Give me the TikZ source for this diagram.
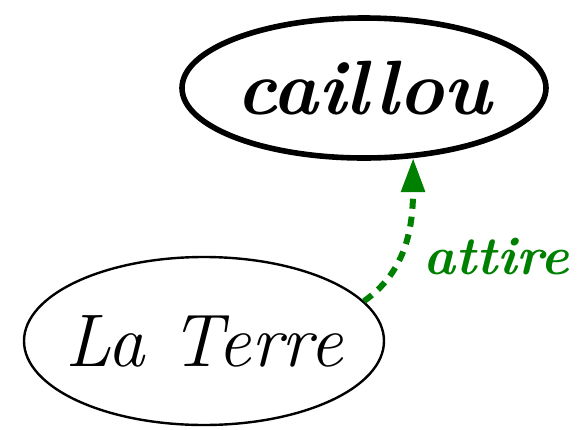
\documentclass[tikz,border=0pt]{standalone}
\usepackage{fontspec}
\definecolor{forcegreen}{RGB}{0, 128, 0}
\usepackage{tikz}
\usetikzlibrary{shapes, arrows.meta, positioning}

\begin{document}
\begin{tikzpicture}[x=0.5pt, y=-0.5pt]
  \useasboundingbox (0,0) rectangle (586,430);

  % the pebble
  \node[draw, ellipse, line width=2.8pt, inner sep=0pt, minimum width=182pt, minimum height=70pt,
        font=\fontsize{38.5}{42}\selectfont\bfseries\itshape] (caillou) at (364,88) {caillou};

  % the Earth
  \node[draw, ellipse, line width=1.2pt, inner xsep=-10pt, inner ysep=0pt, minimum width=180pt, minimum height=84pt,
        font=\fontsize{37.3}{42}\selectfont\itshape] (terre) at (204,341) {La Terre};

  % attraction
  \draw[forcegreen, line width=3pt, dash pattern=on 5pt off 4pt, -{Triangle[length=17pt, width=11.5pt]}]
    (terre.14) .. controls (405,272) and (413,230) .. (caillou.-55)
    node[pos=0.42, right=7pt, font=\fontsize{27}{30}\selectfont\bfseries\itshape] (attire) {attire};
\end{tikzpicture}
\end{document}
